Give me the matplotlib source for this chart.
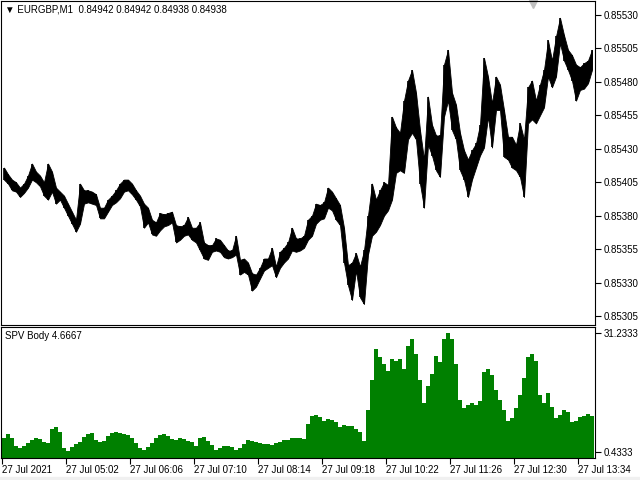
import matplotlib
matplotlib.use('Agg')
import matplotlib.pyplot as plt
import numpy as np

plt.rcParams['font.family'] = ['Liberation Sans', 'DejaVu Sans']
plt.rcParams['font.size'] = 7

# header texts
symbol_text = '\u25bc EURGBP,M1  0.84942 0.84942 0.84938 0.84938'
ind_text = 'SPV Body 4.6667'

# EURGBP M1, read every 4 bars from the picture (first bar 27 Jul 03:58)
# prices in points (1 point = 0.00001)
step_min = 4
high_pts = [85416, 85411, 85407, 85405, 85401, 85404, 85410, 85419, 85413, 85410,
            85405, 85419, 85413, 85401, 85398, 85395, 85389, 85383, 85377, 85404,
            85399, 85399, 85398, 85396, 85386, 85386, 85392, 85395, 85399, 85404,
            85407, 85407, 85404, 85399, 85395, 85389, 85386, 85377, 85375, 85382,
            85381, 85382, 85383, 85373, 85372, 85373, 85379, 85371, 85371, 85375,
            85360, 85358, 85358, 85363, 85362, 85358, 85354, 85354, 85365, 85347,
            85348, 85345, 85337, 85336, 85341, 85348, 85348, 85356, 85342, 85353,
            85356, 85360, 85371, 85363, 85363, 85365, 85377, 85380, 85389, 85388,
            85390, 85401, 85398, 85393, 85388, 85371, 85343, 85345, 85352, 85342,
            85354, 85380, 85404, 85392, 85399, 85405, 85403, 85454, 85446, 85442,
            85466, 85481, 85489, 85472, 85444, 85422, 85469, 85448, 85440, 85440,
            85493, 85504, 85472, 85463, 85442, 85429, 85422, 85429, 85434, 85448,
            85498, 85484, 85464, 85484, 85478, 85459, 85439, 85439, 85433, 85449,
            85437, 85476, 85481, 85466, 85478, 85489, 85511, 85496, 85514, 85528,
            85515, 85504, 85500, 85493, 85491, 85494, 85496, 85504]
low_pts = [85407, 85404, 85399, 85398, 85394, 85397, 85401, 85407, 85405, 85402,
           85395, 85392, 85398, 85389, 85392, 85386, 85380, 85374, 85368, 85374,
           85389, 85390, 85389, 85388, 85378, 85378, 85383, 85388, 85390, 85393,
           85398, 85399, 85396, 85392, 85387, 85371, 85375, 85366, 85365, 85369,
           85372, 85373, 85375, 85360, 85362, 85365, 85366, 85362, 85360, 85354,
           85348, 85347, 85353, 85354, 85353, 85349, 85348, 85349, 85351, 85336,
           85338, 85336, 85324, 85327, 85333, 85339, 85341, 85343, 85334, 85341,
           85345, 85348, 85354, 85353, 85354, 85356, 85362, 85365, 85374, 85377,
           85378, 85386, 85384, 85377, 85373, 85345, 85328, 85317, 85339, 85319,
           85314, 85351, 85365, 85368, 85373, 85380, 85384, 85392, 85412, 85414,
           85412, 85437, 85442, 85437, 85404, 85386, 85433, 85425, 85414, 85409,
           85454, 85466, 85444, 85437, 85414, 85407, 85394, 85407, 85416, 85425,
           85431, 85454, 85431, 85459, 85459, 85424, 85422, 85416, 85414, 85409,
           85394, 85449, 85452, 85449, 85455, 85461, 85484, 85476, 85484, 85509,
           85496, 85489, 85481, 85466, 85474, 85475, 85479, 85489]

# SPV Body indicator, same bars
spv = [4.1, 5.1, 4.1, 2.0, 1.5, 2.0, 2.8, 3.6, 4.1, 3.8,
       3.0, 2.8, 6.4, 7.0, 5.7, 1.5, 0.7, 1.7, 2.5, 3.0,
       4.4, 5.1, 5.4, 3.6, 3.0, 3.3, 4.6, 5.4, 5.7, 5.4,
       5.1, 4.9, 4.1, 2.8, 1.5, 1.0, 1.7, 2.8, 4.1, 4.9,
       5.1, 4.6, 3.8, 3.6, 4.1, 3.8, 3.3, 3.0, 2.0, 4.1,
       4.4, 3.3, 2.3, 1.0, 1.5, 2.0, 2.0, 1.7, 1.0, 1.5,
       2.5, 3.6, 3.3, 3.0, 2.8, 2.5, 2.5, 2.3, 2.8, 3.0,
       3.6, 3.6, 4.1, 4.1, 4.1, 3.8, 7.7, 9.8, 10.1, 9.6,
       8.5, 9.0, 8.8, 8.3, 7.0, 7.5, 7.2, 7.2, 6.4, 5.7,
       3.3, 11.4, 19.2, 27.1, 25.0, 23.1, 21.3, 24.4, 23.9, 24.4,
       21.8, 27.8, 29.6, 25.8, 19.2, 13.0, 17.4, 20.5, 25.2, 23.7,
       29.6, 31.2333, 29.6, 23.1, 14.0, 11.9, 12.7, 13.2, 12.7, 13.7,
       21.1, 21.8, 20.3, 16.6, 14.0, 11.4, 8.5, 9.3, 11.9, 15.3,
       19.7, 25.0, 25.8, 23.9, 15.3, 13.2, 15.6, 12.2, 9.3, 10.1,
       11.4, 10.9, 8.3, 8.5, 9.6, 9.8, 10.3, 9.8]

time_labels = ['27 Jul 2021', '27 Jul 05:02', '27 Jul 06:06', '27 Jul 07:10',
               '27 Jul 08:14', '27 Jul 09:18', '27 Jul 10:22', '27 Jul 11:26',
               '27 Jul 12:30', '27 Jul 13:34']
price_ticks = [0.85530, 0.85505, 0.85480, 0.85455, 0.85430,
               0.85405, 0.85380, 0.85355, 0.85330, 0.85305]
spv_ticks = [31.2333, 0.4333]

hi = np.array(high_pts) * 1e-5
lo = np.array(low_pts) * 1e-5
x = np.arange(len(hi)) * step_min

fig = plt.figure(figsize=(6.4, 4.8), dpi=100)
ax1 = fig.add_axes([1/640, 155/480, 594/640, 324/480])
ax2 = fig.add_axes([1/640, 22/480, 594/640, 131/480])

# price panel: high/low range of the bars as one band, plus the bar lines
xc = x + step_min / 2
ax1.fill_between(xc, lo, hi, color='black', linewidth=0.6)
ax1.vlines(xc, lo, hi, color='black', linewidth=1.2)
ax1.set_xlim(-1, 593)
ax1.set_ylim(0.852983, 0.855405)
ax1.yaxis.tick_right()
ax1.set_yticks(price_ticks)
ax1.set_yticklabels(['%.5f' % p for p in price_ticks])
ax1.set_xticks([])
ax1.tick_params(axis='y', length=4, width=0.8, pad=2, direction='out')
ax1.text(4 / 594, 1 - 9 / 324, symbol_text, transform=ax1.transAxes, va='center', ha='left')
ax1.plot([532 / 594], [1 - 3 / 324], marker='v', color='#c0c0c0', markersize=6,
         transform=ax1.transAxes, clip_on=False)

# indicator panel
ymin, ymax = -1.13, 32.8
ax2.bar(x, np.array(spv) - ymin, bottom=ymin, width=step_min, align='edge',
        color='#008000', linewidth=0)
ax2.set_xlim(-1, 593)
ax2.set_ylim(ymin, ymax)
ax2.yaxis.tick_right()
ax2.set_yticks(spv_ticks)
ax2.set_yticklabels(['%.4f' % v for v in spv_ticks])
ax2.set_xticks(np.arange(len(time_labels)) * 64)
ax2.set_xticklabels(time_labels, ha='left')
ax2.tick_params(axis='y', length=4, width=0.8, pad=2, direction='out')
ax2.tick_params(axis='x', length=4, width=0.8, pad=1, direction='out')
ax2.text(4 / 594, 1 - 9 / 131, ind_text, transform=ax2.transAxes, va='center', ha='left')

for ax in (ax1, ax2):
    for s in ax.spines.values():
        s.set_linewidth(0.8)
        s.set_color('black')

# grey strip at the bottom edge
fig.patches.append(plt.Rectangle((0, 0), 1, 3 / 480, transform=fig.transFigure,
                                 color='#f0f0f0', zorder=0))

fig.savefig('out.png', dpi=100)
